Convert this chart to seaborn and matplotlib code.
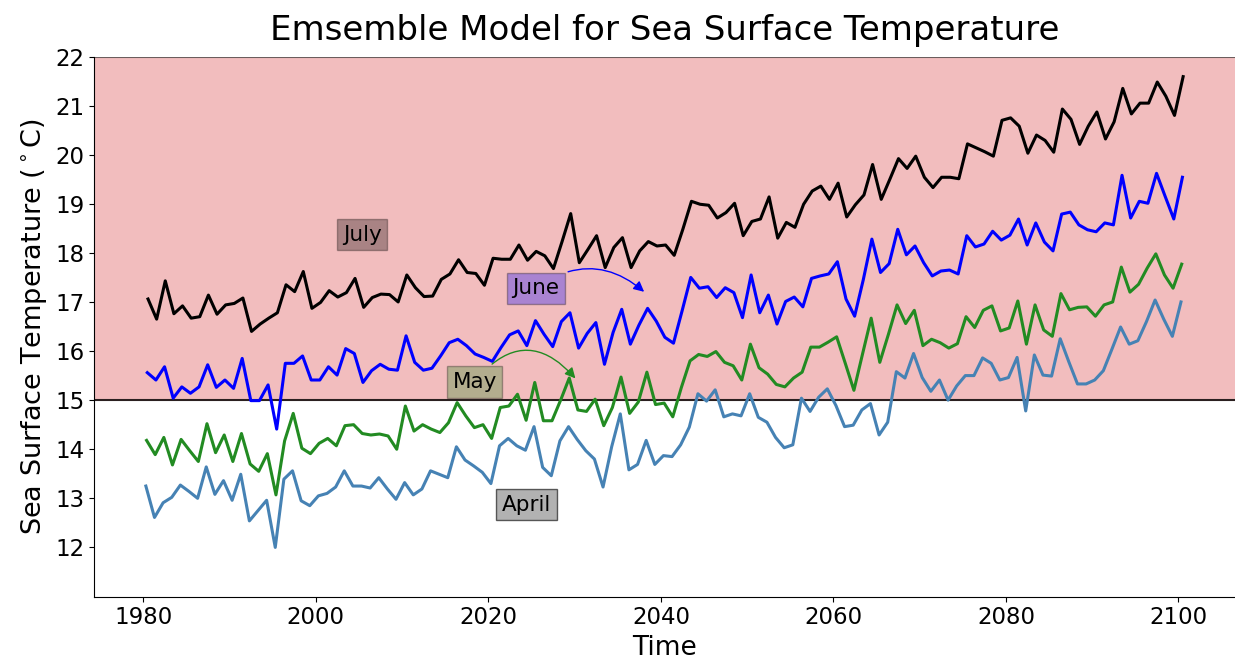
import numpy as np
import pandas as pd
import matplotlib
matplotlib.use("Agg")
import matplotlib.pyplot as plt
import seaborn as sns

# yearly ensemble values, 1980-2100, one array per month
years = np.arange(1980, 2101)

july = [17.06, 16.65, 17.43, 16.76, 16.92, 16.67, 16.70, 17.14, 16.75, 16.94, 16.97, 17.08, 16.40, 16.55,
        16.67, 16.78, 17.35, 17.21, 17.62, 16.87, 16.99, 17.23, 17.10, 17.19, 17.48, 16.89, 17.09,
        17.16, 17.15, 17.00, 17.55, 17.29, 17.11, 17.12, 17.46, 17.57, 17.86, 17.60, 17.58, 17.34, 17.89,
        17.87, 17.87, 18.16, 17.85, 18.03, 17.94, 17.68, 18.23, 18.80, 17.80, 18.07, 18.35, 17.70, 18.11, 18.31,
        17.70, 18.04, 18.23, 18.14, 18.16, 17.95, 18.48, 19.05, 18.99, 18.97, 18.71, 18.82, 19.01, 18.35,
        18.64, 18.69, 19.14, 18.30, 18.62, 18.52, 18.99, 19.26, 19.36, 19.09, 19.42, 18.73, 18.98,
        19.18, 19.80, 19.09, 19.50, 19.92, 19.72, 19.97, 19.54, 19.33, 19.54, 19.54, 19.51, 20.22, 20.14,
        20.06, 19.97, 20.70,
        20.75, 20.58, 20.03, 20.40, 20.29, 20.05, 20.93, 20.72, 20.21, 20.58, 20.87, 20.32, 20.67, 21.35,
        20.83, 21.05, 21.05, 21.48, 21.19, 20.80, 21.59]

june = [15.56, 15.41, 15.68, 15.04, 15.27, 15.14, 15.27, 15.72, 15.26, 15.41, 15.24, 15.85, 14.99, 14.99,
        15.31, 14.41, 15.75, 15.75, 15.90, 15.41, 15.41, 15.68, 15.51, 16.05, 15.95, 15.36, 15.60,
        15.73, 15.63, 15.61, 16.31, 15.77, 15.61, 15.65, 15.90, 16.17, 16.24, 16.11, 15.94, 15.87, 15.79,
        16.07, 16.33, 16.41, 16.11, 16.62, 16.34, 16.09, 16.60, 16.78, 16.06, 16.36, 16.58, 15.73, 16.38, 16.85,
        16.14, 16.53, 16.87, 16.61, 16.28, 16.16, 16.82, 17.50, 17.28, 17.31, 17.09, 17.29, 17.19, 16.68,
        17.55, 16.78, 17.14, 16.55, 17.01, 17.10, 16.90, 17.48, 17.53, 17.57, 17.82, 17.06, 16.71,
        17.45, 18.28, 17.60, 17.78, 18.48, 17.96, 18.14, 17.80, 17.53, 17.63, 17.65, 17.57, 18.35, 18.12,
        18.18, 18.44, 18.26,
        18.36, 18.69, 18.16, 18.61, 18.22, 18.04, 18.79, 18.83, 18.57, 18.47, 18.43, 18.61, 18.57, 19.58,
        18.71, 19.05, 19.01, 19.62, 19.15, 18.69, 19.54]

may = [14.18, 13.89, 14.24, 13.68, 14.20, 13.97, 13.75, 14.52, 13.93, 14.29, 13.75, 14.32, 13.70, 13.55,
       13.91, 13.07, 14.17, 14.73, 14.02, 13.91, 14.12, 14.22, 14.07, 14.48, 14.50, 14.32, 14.29,
       14.31, 14.27, 14.00, 14.88, 14.37, 14.50, 14.41, 14.34, 14.54, 14.95, 14.68, 14.44, 14.50, 14.22,
       14.85, 14.88, 15.12, 14.59, 15.36, 14.58, 14.58, 15.00, 15.45, 14.80, 14.77, 15.02, 14.48, 14.85, 15.47,
       14.73, 14.96, 15.57, 14.91, 14.94, 14.66, 15.26, 15.80, 15.93, 15.89, 15.99, 15.77, 15.70, 15.41,
       16.14, 15.66, 15.53, 15.32, 15.27, 15.45, 15.57, 16.08, 16.08, 16.18, 16.29, 15.75, 15.20,
       15.94, 16.67, 15.77, 16.34, 16.94, 16.56, 16.83, 16.11, 16.24, 16.17, 16.06, 16.15, 16.70, 16.48,
       16.83, 16.92, 16.41,
       16.47, 17.02, 16.14, 16.94, 16.43, 16.30, 17.17, 16.84, 16.89, 16.90, 16.71, 16.94, 17.00, 17.71,
       17.20, 17.36, 17.69, 17.98, 17.55, 17.28, 17.77]

april = [13.25, 12.61, 12.91, 13.02, 13.27, 13.14, 13.00, 13.64, 13.08, 13.36, 12.96, 13.49, 12.54, 12.75,
         12.96, 12.00, 13.39, 13.56, 12.95, 12.85, 13.05, 13.10, 13.23, 13.56, 13.25, 13.25, 13.21,
         13.42, 13.19, 12.98, 13.32, 13.07, 13.19, 13.56, 13.49, 13.42, 14.05, 13.78, 13.66, 13.53, 13.30,
         14.07, 14.22, 14.07, 13.98, 14.46, 13.63, 13.46, 14.17, 14.46, 14.20, 13.97, 13.80, 13.23, 14.05, 14.72,
         13.58, 13.69, 14.18, 13.69, 13.87, 13.85, 14.09, 14.45, 15.13, 14.98, 15.21, 14.66, 14.72, 14.68,
         15.13, 14.65, 14.55, 14.24, 14.03, 14.09, 15.04, 14.77, 15.06, 15.23, 14.89, 14.46, 14.49,
         14.80, 14.93, 14.29, 14.55, 15.58, 15.45, 15.95, 15.46, 15.18, 15.41, 15.00, 15.29, 15.50, 15.50,
         15.86, 15.75, 15.41,
         15.46, 15.87, 14.78, 15.92, 15.51, 15.49, 16.25, 15.78, 15.33, 15.33, 15.41, 15.60, 16.04, 16.49,
         16.14, 16.21, 16.60, 17.04, 16.65, 16.30, 17.00]

months = ['April', 'May', 'June', 'July']
month_num = [4, 5, 6, 7]
colors = ['steelblue', 'forestgreen', 'blue', 'black']

# long table; time as decimal year at the middle of each month
frames = []
for name, m, vals in zip(months, month_num, [april, may, june, july]):
    frames.append(pd.DataFrame({'time': years + (m - 0.5) / 12, 'sst': vals, 'month': name}))
df = pd.concat(frames, ignore_index=True)

fig = plt.figure(figsize=(12.35, 6.6), dpi=100)
ax = fig.add_axes([94 / 1235, 63.5 / 660, 1141 / 1235, 540 / 660])

# warm region above 15 C
ax.axhspan(15, 22, facecolor='tab:red', alpha=0.3, edgecolor='none', zorder=0)
ax.axhline(22, color='#6b5d5d', lw=1.5, zorder=1)
ax.axhline(15, color='#2b2020', lw=1.5, zorder=1)

for name, c in zip(months, colors):
    sns.lineplot(data=df[df['month'] == name], x='time', y='sst', color=c, lw=2.2, ax=ax, zorder=3)

ax.set_ylim(11, 22)
ax.set_yticks(range(12, 23))
ax.set_xticks(range(1980, 2101, 20))
ax.tick_params(labelsize=16.5)
ax.set_xlabel('Time', fontsize=19)
ax.set_ylabel(r'Sea Surface Temperature ($^\circ$C)', fontsize=19.5)
ax.set_title('Emsemble Model for Sea Surface Temperature', fontsize=24.5, pad=12)
sns.despine(ax=ax)

ax.text(2005.4, 18.37, 'July', fontsize=15.5, ha='center', va='center',
        bbox=dict(facecolor='black', alpha=0.3))
ax.text(2024.4, 12.87, 'April', fontsize=15.5, ha='center', va='center',
        bbox=dict(facecolor='grey', alpha=0.6))
ax.annotate('June', xy=(2038.3, 17.17), xytext=(2025.5, 17.28), fontsize=15.5, ha='center', va='center',
            bbox=dict(facecolor='blue', alpha=0.3),
            arrowprops=dict(arrowstyle='-|>', color='blue', connectionstyle='arc3,rad=-0.4'))
ax.annotate('May', xy=(2030.3, 15.4), xytext=(2018.4, 15.37), fontsize=15.5, ha='center', va='center',
            bbox=dict(facecolor='forestgreen', alpha=0.3),
            arrowprops=dict(arrowstyle='-|>', color='forestgreen', connectionstyle='arc3,rad=-0.6'))

fig.savefig('out.png', dpi=100)
